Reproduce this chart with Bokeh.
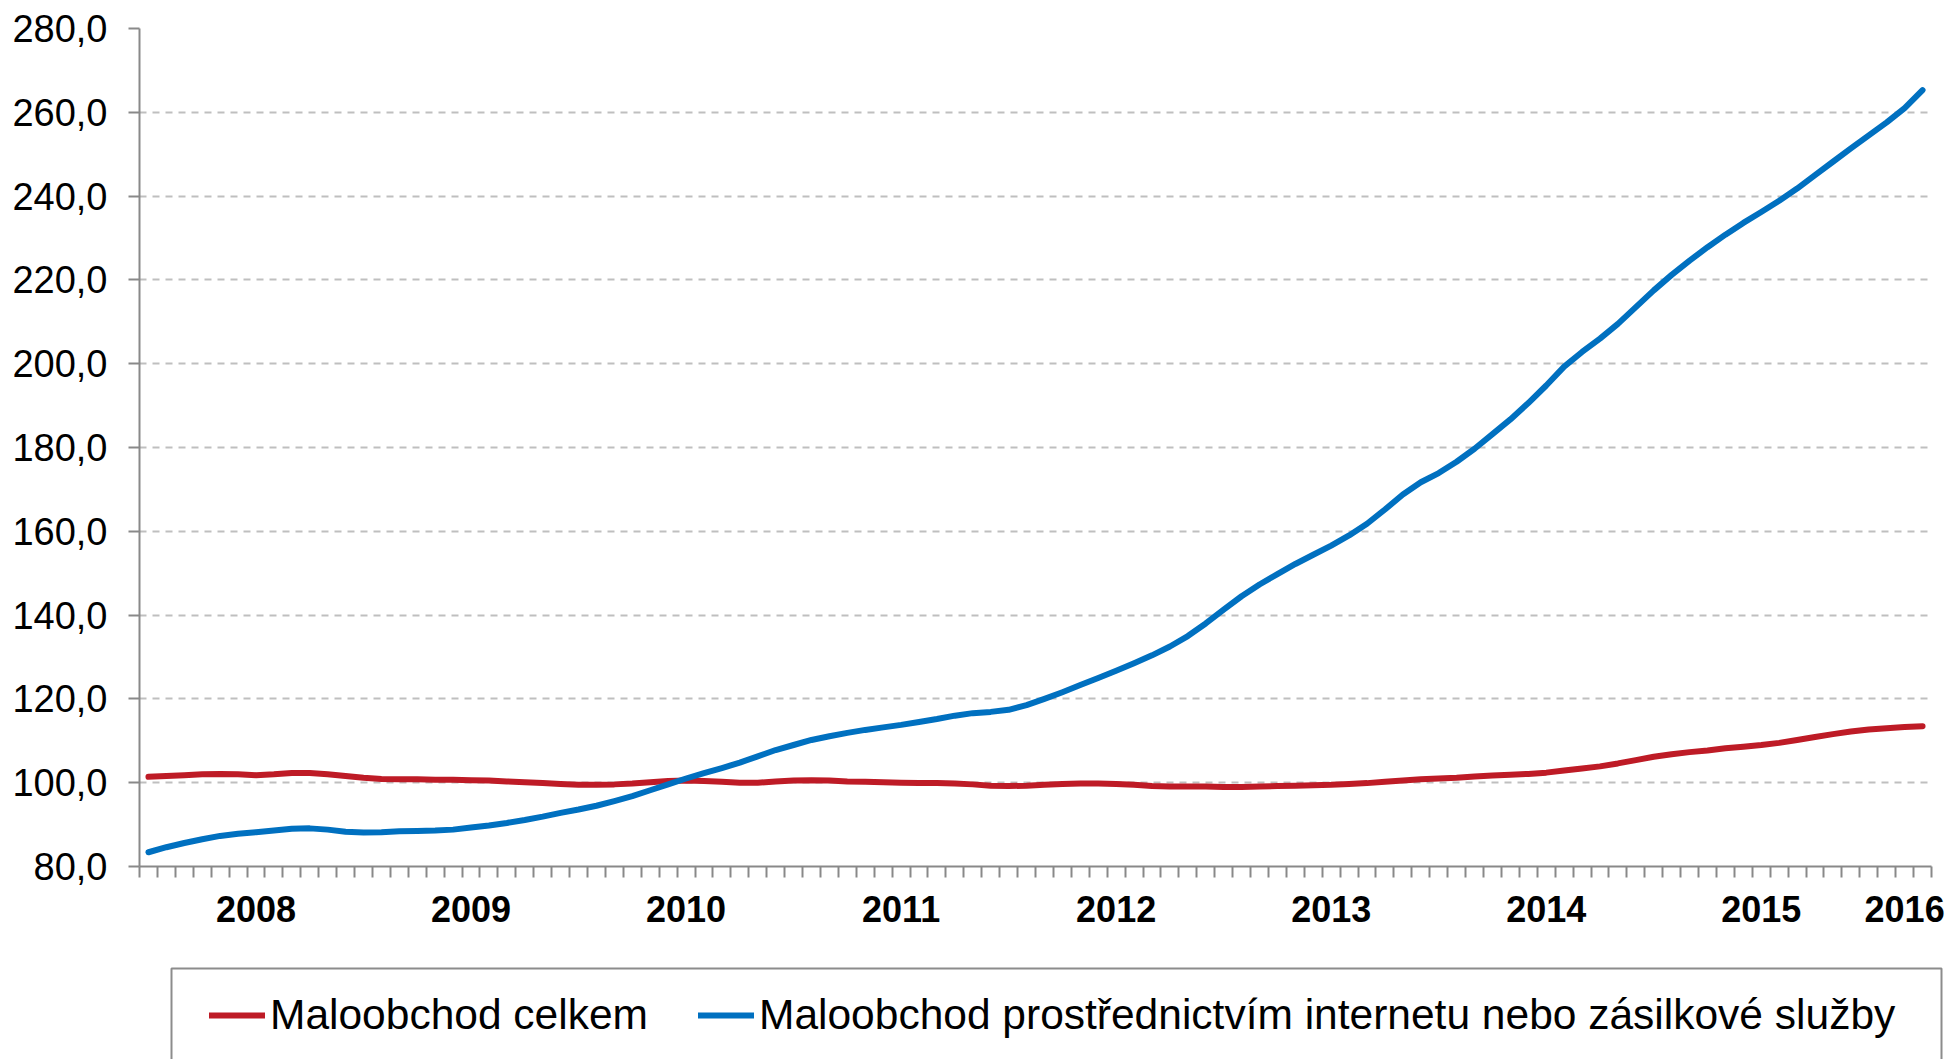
from bokeh.plotting import figure
from bokeh.layouts import column
from bokeh.models import FixedTicker, Range1d, Legend, LegendItem, ColumnDataSource
from bokeh.embed import file_html
from bokeh.resources import INLINE

# ---- data (monthly index, Jan 2008 .. Apr 2016) ----
months = list(range(100))

celkem = [101.4, 101.6, 101.8, 102.0, 102.1, 102.0, 101.8, 102.0, 102.3, 102.3,
          102.0, 101.6, 101.2, 100.9, 100.8, 100.8, 100.7, 100.7, 100.6, 100.5,
          100.3, 100.1, 99.9, 99.7, 99.5, 99.5, 99.6, 99.8, 100.1, 100.4,
          100.5, 100.4, 100.2, 100.0, 100.0, 100.3, 100.5, 100.6, 100.5, 100.3,
          100.2, 100.1, 100.0, 99.9, 99.9, 99.8, 99.6, 99.3, 99.2, 99.3,
          99.5, 99.7, 99.8, 99.8, 99.7, 99.5, 99.2, 99.1, 99.1, 99.1,
          99.0, 99.0, 99.1, 99.2, 99.3, 99.4, 99.5, 99.7, 99.9, 100.2,
          100.5, 100.8, 101.0, 101.2, 101.5, 101.7, 101.9, 102.1, 102.4, 102.9,
          103.4, 103.9, 104.6, 105.4, 106.2, 106.8, 107.3, 107.7, 108.2, 108.6,
          109.0, 109.5, 110.2, 110.9, 111.6, 112.2, 112.7, 113.0, 113.3, 113.5]

internet = [83.4, 84.6, 85.6, 86.5, 87.3, 87.8, 88.2, 88.6, 89.0, 89.1,
            88.8, 88.3, 88.1, 88.2, 88.4, 88.5, 88.6, 88.8, 89.3, 89.8,
            90.4, 91.1, 91.9, 92.8, 93.6, 94.5, 95.6, 96.8, 98.2, 99.6,
            101.0, 102.3, 103.5, 104.8, 106.3, 107.8, 109.0, 110.2, 111.1, 111.9,
            112.6, 113.2, 113.8, 114.5, 115.2, 116.0, 116.6, 116.9, 117.4, 118.5,
            120.0, 121.6, 123.3, 125.0, 126.7, 128.5, 130.4, 132.5, 135.0, 138.0,
            141.3, 144.5, 147.3, 149.8, 152.2, 154.4, 156.6, 159.0, 161.8, 165.2,
            168.8, 171.7, 173.9, 176.6, 179.7, 183.2, 186.7, 190.6, 194.8, 199.3,
            202.8, 206.0, 209.5, 213.5, 217.5, 221.2, 224.6, 227.8, 230.8, 233.6,
            236.2, 238.9, 241.8, 245.0, 248.2, 251.4, 254.5, 257.6, 261.0, 265.3]

series_names = ["Maloobchod celkem",
                "Maloobchod prostřednictvím internetu nebo zásilkové služby"]
series_colors = ["#BE1B26", "#0070C0"]

year_positions = [6, 18, 30, 42, 54, 66, 78, 90, 98]
year_labels = ["2008", "2009", "2010", "2011", "2012", "2013", "2014", "2015", "2016"]

y_ticks = [80, 100, 120, 140, 160, 180, 200, 220, 240, 260, 280]
y_tick_labels = ["80,0", "100,0", "120,0", "140,0", "160,0", "180,0",
                 "200,0", "220,0", "240,0", "260,0", "280,0"]

FONT = "Liberation Sans"
AXIS_COLOR = "#898989"
W = 1948

p = figure(width=W, height=960, output_backend="svg", toolbar_location=None,
           x_range=Range1d(-0.5, len(months) - 0.5), y_range=Range1d(80, 280),
           min_border_left=139, min_border_right=17, min_border_top=28,
           min_border_bottom=94)
p.frame_align = False
p.outline_line_color = None
p.background_fill_color = "white"
p.border_fill_color = "white"

src = ColumnDataSource(dict(x=months, a=celkem, b=internet))
p.line("x", "a", source=src, line_color=series_colors[0], line_width=6,
       line_cap="round", line_join="round")
p.line("x", "b", source=src, line_color=series_colors[1], line_width=6,
       line_cap="round", line_join="round")

# x axis
xa = p.xaxis[0]
xa.ticker = FixedTicker(ticks=year_positions,
                        minor_ticks=[m - 0.5 for m in months] + [months[-1] + 0.5])
xa.major_label_overrides = {pos: lab for pos, lab in zip(year_positions, year_labels)}
xa.major_tick_out = 0
xa.major_tick_in = 0
xa.minor_tick_out = 11
xa.minor_tick_in = 0
xa.minor_tick_line_color = AXIS_COLOR
xa.minor_tick_line_width = 2
xa.axis_line_color = AXIS_COLOR
xa.axis_line_width = 2
xa.major_label_text_font = FONT
xa.major_label_text_font_style = "bold"
xa.major_label_text_font_size = "36px"
xa.major_label_text_color = "black"
xa.major_label_standoff = 18

# y axis
ya = p.yaxis[0]
ya.ticker = FixedTicker(ticks=y_ticks)
ya.major_label_overrides = {t: l for t, l in zip(y_ticks, y_tick_labels)}
ya.major_tick_out = 11
ya.major_tick_in = 0
ya.minor_tick_out = 0
ya.minor_tick_in = 0
ya.major_tick_line_color = AXIS_COLOR
ya.major_tick_line_width = 2
ya.axis_line_color = AXIS_COLOR
ya.axis_line_width = 2
ya.major_label_text_font = FONT
ya.major_label_text_font_size = "38px"
ya.major_label_text_color = "black"
ya.major_label_standoff = 21

p.xgrid.grid_line_color = None
p.ygrid.grid_line_color = "#BFBFBF"
p.ygrid.grid_line_width = 2
p.ygrid.grid_line_dash = "7 6"

# ---- legend strip (the reference's legend box runs off the bottom edge) ----
LH = 99
lg = figure(width=W, height=LH, output_backend="svg", toolbar_location=None,
            x_range=Range1d(0, W), y_range=Range1d(0, LH),
            x_axis_location=None, y_axis_location=None, min_border=0)
lg.frame_align = False
lg.outline_line_color = None
lg.xgrid.grid_line_color = None
lg.ygrid.grid_line_color = None
lg.quad(left=[171], right=[1941], top=[LH - 8], bottom=[-20],
        fill_color="white", line_color="#8C8C8C", line_width=2)
# off-screen stand-ins that only carry the legend glyph styles
dummy = ColumnDataSource(dict(x=[-50, -40], y=[-50, -50]))
d1 = lg.line("x", "y", source=dummy, line_color=series_colors[0], line_width=6,
             line_cap="round")
d2 = lg.line("x", "y", source=dummy, line_color=series_colors[1], line_width=6,
             line_cap="round")

legend = Legend(items=[LegendItem(label=series_names[0], renderers=[d1]),
                       LegendItem(label=series_names[1], renderers=[d2])],
                orientation="horizontal", location=(209, 20))
legend.label_text_font = FONT
legend.label_text_font_size = "42.5px"
legend.label_text_color = "black"
legend.glyph_width = 56
legend.glyph_height = 20
legend.label_standoff = 5
legend.spacing = 50
legend.padding = 0
legend.margin = 0
legend.border_line_alpha = 0
legend.background_fill_alpha = 0
lg.add_layout(legend, "center")

layout = column(p, lg, spacing=0)
open("out.html", "w").write(file_html(layout, INLINE))
